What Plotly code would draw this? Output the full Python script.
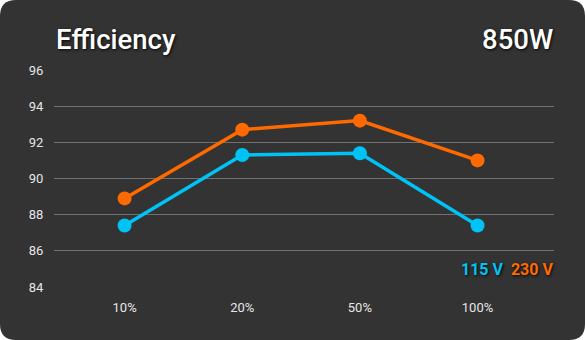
import plotly.graph_objects as go

categories = ["10%", "20%", "50%", "100%"]
series_names = ["115 V", "230 V"]
v115 = [87.4, 91.3, 91.4, 87.4]
v230 = [88.9, 92.7, 93.2, 91.0]
y_ticks = [84, 86, 88, 90, 92, 94, 96]
colors = ["#00c3f5", "#ff6a00"]

W, H = 585, 340
ml, mr, mt, mb = 54, 31, 70, 53
pw, ph = W - ml - mr, H - mt - mb

def px2paper(x, y):
    return (x - ml) / pw, (H - mb - y) / ph

def rounded_rect(r=16):
    def P(x, y):
        a, b = px2paper(x, y)
        return f"{a:.5f},{b:.5f}"
    path = f"M {P(r,0)} L {P(W-r,0)} Q {P(W,0)} {P(W,r)} L {P(W,H-r)} Q {P(W,H)} {P(W-r,H)} L {P(r,H)} Q {P(0,H)} {P(0,H-r)} L {P(0,r)} Q {P(0,0)} {P(r,0)} Z"
    return path

fig = go.Figure()
for name, vals, col in zip(series_names, [v115, v230], colors):
    fig.add_trace(go.Scatter(
        x=categories, y=vals, name=name, mode="lines+markers",
        line=dict(color=col, width=3.5),
        marker=dict(color=col, size=14),
    ))

shadow = "1px 1px 3px rgba(0,0,0,0.9)"
fig.add_shape(type="path", path=rounded_rect(16), xref="paper", yref="paper",
              fillcolor="#333333", line=dict(width=0), layer="below")

fig.add_annotation(text="Efficiency", xref="paper", yref="paper",
                   x=px2paper(54, 0)[0], y=px2paper(0, 40)[1], xanchor="left", yanchor="middle",
                   showarrow=False,
                   font=dict(family="Roboto", size=27.5, color="#ffffff", weight=500, shadow=shadow))
fig.add_annotation(text="850W", xref="paper", yref="paper",
                   x=px2paper(555, 0)[0], y=px2paper(0, 40)[1], xanchor="right", yanchor="middle",
                   showarrow=False,
                   font=dict(family="Roboto", size=27.5, color="#ffffff", weight=500, shadow=shadow))
legend_txt = (f"<span style='color:{colors[0]}'>{series_names[0]}</span>  "
              f"<span style='color:{colors[1]}'>{series_names[1]}</span>")
fig.add_annotation(text=legend_txt, xref="paper", yref="paper",
                   x=px2paper(555, 0)[0], y=px2paper(0, 269)[1], xanchor="right", yanchor="middle",
                   showarrow=False,
                   font=dict(family="Roboto", size=16, weight=700, shadow=shadow))

fig.update_layout(
    width=W, height=H,
    margin=dict(l=ml, r=mr, t=mt, b=mb),
    paper_bgcolor="#ffffff", plot_bgcolor="rgba(0,0,0,0)",
    showlegend=False,
    font=dict(family="Roboto", color="#e6e6e6", size=13),
)
fig.update_xaxes(type="category", range=[-0.6, 3.65], showgrid=False, zeroline=False,
                 showline=False, ticks="outside", ticklen=8, tickcolor="rgba(0,0,0,0)",
                 tickfont=dict(size=13, color="#e6e6e6"))
fig.update_yaxes(range=[84, 96], tickvals=y_ticks, showgrid=True, gridcolor="#707070",
                 gridwidth=1, zeroline=False, showline=False, ticks="outside", ticklen=7,
                 tickcolor="rgba(0,0,0,0)", tickfont=dict(size=13, color="#e6e6e6"))

fig.write_html("out.html")
